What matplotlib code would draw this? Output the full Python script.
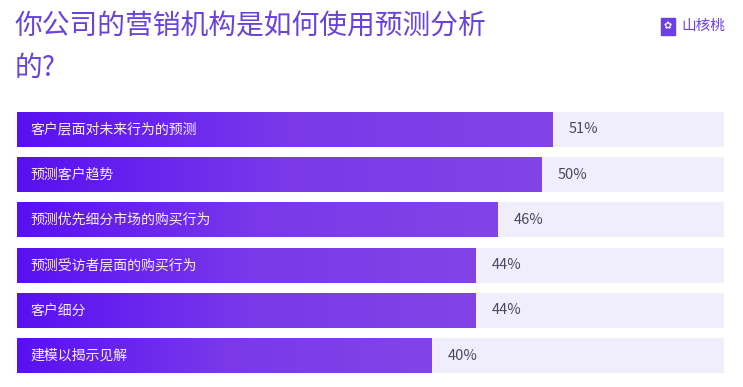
import numpy as np
import matplotlib.pyplot as plt
from matplotlib.colors import LinearSegmentedColormap
from matplotlib.patches import Rectangle

plt.rcParams['font.family'] = ['Noto Sans CJK SC', 'DejaVu Sans']

# données
categories = ['客户层面对未来行为的预测', '预测客户趋势', '预测优先细分市场的购买行为',
              '预测受访者层面的购买行为', '客户细分', '建模以揭示见解']
values = [51, 50, 46, 44, 44, 40]
labels = ['51%', '50%', '46%', '44%', '44%', '40%']
title = '你公司的营销机构是如何使用预测分析\n的?'
X0, X1 = 25 / 11, 732 / 11   # échelle

W, H = 743, 387
fig = plt.figure(figsize=(W / 100, H / 100), dpi=100)
ax = fig.add_axes([17 / W, 14 / H, 707 / W, 261 / H])

h = 0.77
cmap = LinearSegmentedColormap.from_list('g', ['#5810f2', '#7a38ea', '#8244e6'])
grad = np.linspace(0, 1, 256).reshape(1, -1)

for i, (cat, v, lab) in enumerate(zip(categories, values, labels)):
    ax.barh(i, X1 - X0, left=X0, height=h, color='#f0eefb', zorder=1)
    ax.imshow(grad, cmap=cmap, aspect='auto', extent=(X0, v, i + h / 2, i - h / 2), zorder=2)
    ax.text(X0 + 1.2, i, cat, color='#f4f0ff', fontsize=10, va='center', ha='left', zorder=3)
    ax.text(v + 1.4, i, lab, color='#4b4760', fontsize=10.5, va='center', ha='left', zorder=3)

ax.set_xlim(X0, X1)
ax.set_ylim(5 + h / 2, -h / 2)
ax.axis('off')

fig.text(15 / W, 1 - 11 / H, title, color='#6a42dc', fontsize=20, va='top', ha='left',
         linespacing=1.5)

# logo
fig.patches.append(Rectangle((661 / W, 1 - 35 / H), 14 / W, 17 / H, transform=fig.transFigure,
                             color='#6b3fe6', figure=fig))
fig.text(668 / W, 1 - 26.5 / H, '✿', color='white', fontsize=7, ha='center', va='center',
         family=['DejaVu Sans'])
fig.text(681 / W, 1 - 26 / H, '山核桃', color='#6b3fe6', fontsize=10.5, va='center', ha='left')

fig.savefig('out.png', dpi=100)
